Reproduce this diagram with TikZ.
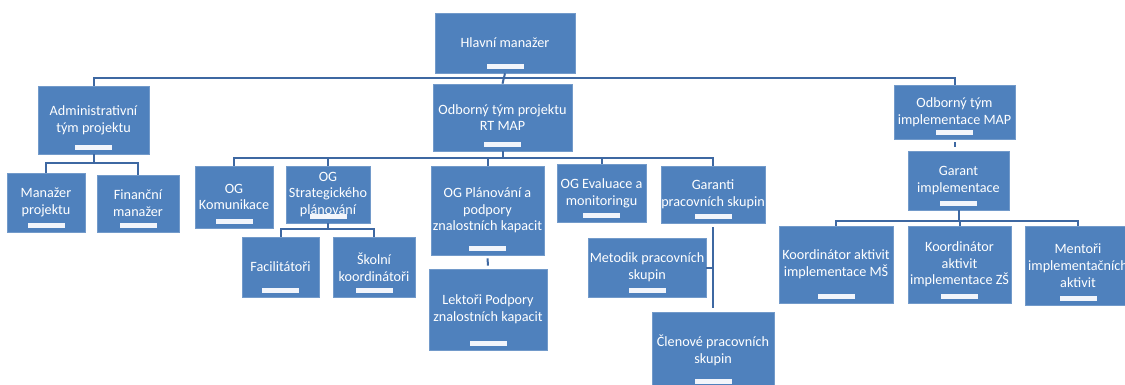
\documentclass[tikz,border=0pt]{standalone}
\usepackage{fontspec}
\setmainfont{Carlito}
\definecolor{boxc}{HTML}{4F81BD}
\definecolor{linec}{HTML}{3E68A2}
\definecolor{barc}{HTML}{F2F5FB}
\begin{document}
\begin{tikzpicture}[x=1pt, y=-1pt,
    orgbox/.style={fill=boxc, draw=boxc!80!white, line width=0.6pt, inner sep=0pt,
        text=white, align=center, font=\fontsize{14.2}{16.7}\selectfont},
    conn/.style={draw=linec, line width=2pt},
    barfill/.style={fill=barc}]
    \useasboundingbox (0,0) rectangle (1125,385);
    % boxes: name / left / top / right / bottom / text
    \foreach \n/\xa/\ya/\xb/\yb/\t in {
        root/435/13/575/73/{Hlavní manažer},
        adm/38/86/149/154/{Administrativní\\tým projektu},
        rtmap/433/84/572/151/{Odborný tým projektu\\RT MAP},
        impl/894/85/1015/139/{Odborný tým\\implementace MAP},
        manproj/7/173/85/232/{Manažer\\projektu},
        finman/97/175/179/232/{Finanční\\manažer},
        ogkom/195/166/273/228/{OG\\Komunikace},
        ogstrat/286/166/370/223/{OG\\Strategického\\plánování},
        facil/242/237/319/297/{Facilitátoři},
        skoord/333/237/415/297/{Školní\\koordinátoři},
        ogplan/431/166/544/255/{OG Plánování a\\podpory\\znalostních kapacit},
        lektori/429/269/547/350/{Lektoři Podpory\\znalostních kapacit},
        ogeval/557/164/646/222/{OG Evaluace a\\monitoringu},
        garanti/661/166/765/223/{Garanti\\pracovních skupin},
        metodik/588/238/706/297/{Metodik pracovních\\skupin},
        clenove/652/312/774/388/{Členové pracovních\\skupin},
        garimpl/908/151/1009/210/{Garant\\implementace},
        koordms/779/226/893/303/{Koordinátor aktivit\\implementace MŠ},
        koordzs/908/226/1011/303/{Koordinátor\\aktivit\\implementace ZŠ},
        mentori/1025/226/1131/305/{Mentoři\\implementačních\\aktivit}}
    {
        \pgfmathsetmacro\w{\xb-\xa}
        \pgfmathsetmacro\h{\yb-\ya}
        \node[orgbox, minimum width=\w pt, minimum height=\h pt]
            (\n) at ({(\xa+\xb)/2},{(\ya+\yb)/2}) {\t};
        \fill[barfill] ([xshift=-18.5pt,yshift=4.5pt]\n.south) rectangle ([xshift=18.5pt,yshift=9.5pt]\n.south);
    }
    \coordinate (bus0) at (505,78);
    % top level
    \draw[conn] (root.south) -- (rtmap.north);
    \draw[conn] (adm.north) |- (bus0) -| (impl.north);
    \foreach \c in {manproj,finman} \draw[conn] (adm.south) -- ++(0,9) -| (\c.north);
    \foreach \c in {ogkom,ogstrat,ogplan,ogeval,garanti} \draw[conn] (rtmap.south) -- ++(0,7) -| (\c.north);
    \foreach \c in {facil,skoord} \draw[conn] (ogstrat.south) -- ++(0,6) -| (\c.north);
    \draw[conn, shorten <=3pt, shorten >=3pt] (ogplan.south) -- (lektori.north);
    \draw[conn, shorten <=4pt, shorten >=4pt] (garanti.south) -- (clenove.north);
    \draw[conn] (garanti.south |- metodik.east) -- (metodik.east);
    \draw[conn, shorten <=3pt, shorten >=4pt] (impl.south) -- (impl.south |- garimpl.north);
    \foreach \c in {koordms,koordzs,mentori} \draw[conn] (garimpl.south) -- ++(0,11) -| (\c.north);
\end{tikzpicture}
\end{document}
